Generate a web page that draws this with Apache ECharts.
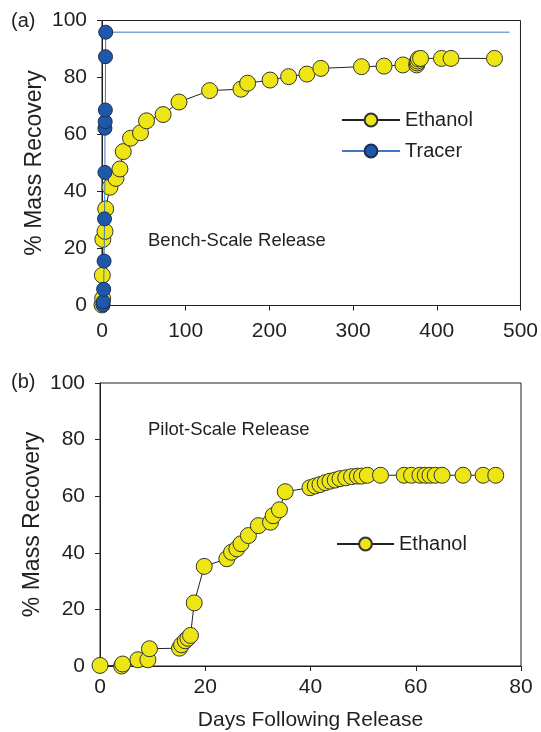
<!DOCTYPE html>
<html><head><meta charset="utf-8">
<script src="https://cdn.jsdelivr.net/npm/echarts@6/dist/echarts.min.js"></script>
<style>html,body{margin:0;padding:0;background:#fff}#c{width:541px;height:732px}</style>
</head><body><div id="c"></div>
<script>
// Panel (a): bench-scale release
const benchEthanol = [
  [0,0.2],[0.4,10.6],[0.8,2.5],[1,23.2],[3.6,26.0],[4.4,33.9],[9.5,41.5],[16.7,44.6],[21.4,47.9],
  [25.4,54.0],[34.1,58.7],[46,60.6],[53.2,64.8],[73,67.0],[92,71.4],[128.6,75.4],[166,75.9],
  [174,78.0],[200.8,79.1],[223,80.3],[244.8,81.2],[261.5,83.2],[310,83.8],[337,84.0],[359.5,84.4],
  [376,84.4],[376.5,85.1],[377,85.8],[378,86.5],[380.6,86.7],[405.6,86.7],[417,86.7],[469,86.7]
];
const benchTracer = [
  [1,0.2],[1.5,1.3],[2,5.7],[2.5,15.6],[3,30.4],[3.5,46.7],[3.5,62.2],[3.8,64.5],[4,68.6],
  [4.2,87.3],[4.5,95.9]
];
const tracerEnd = [487,95.9];
// Panel (b): pilot-scale release
const pilotEthanol = [
  [0,0.2],[4.1,0],[4.3,0.7],[7.2,2.2],[9.1,2.2],[9.4,6.1],[15.1,6.3],[15.5,7.5],[16.2,8.9],
  [16.7,9.8],[17.2,10.8],[17.9,22.3],[19.8,35.2],[24.1,37.9],[25.0,40.2],[26,41.4],[26.8,43.2],
  [28.2,46.1],[30.1,49.6],[32.4,50.8],[32.9,53.1],[34.1,55.2],[35.2,61.6],[39.9,63.0],[40.9,63.6],
  [41.8,64.1],[42.8,64.8],[43.7,65.3],[44.7,65.7],[45.6,66.2],[46.7,66.5],[47.8,66.9],[48.9,67.1],
  [49.7,67.1],[50.8,67.4],[53.3,67.4],[57.8,67.4],[59.2,67.4],[60.8,67.4],[61.8,67.4],[62.7,67.4],
  [63.7,67.4],[65.0,67.4],[69.0,67.4],[72.8,67.4],[75.2,67.4]
];
const xTicksA = {min:0,max:500,interval:100};
const xTicksB = {min:0,max:80,interval:20};
const yTicks = {min:0,max:100,interval:20};

const FONT = 'Liberation Sans, Arial, sans-serif';
const INK = '#231f20';
const YELLOW = '#ede614';
const BLUE = '#1f58a8';

function xAxis(idx, t, margin, name){
  return {type:'value', gridIndex:idx, min:t.min, max:t.max, interval:t.interval,
    name:name||'', nameLocation:'middle', nameGap:44, nameMoveOverlap:false,
    nameTextStyle:{fontFamily:FONT,fontSize:21,color:INK},
    axisLine:{lineStyle:{color:INK,width:1}}, axisTick:{length:5,lineStyle:{color:INK}},
    axisLabel:{fontFamily:FONT,fontSize:21,color:INK,margin:margin}, splitLine:{show:false}};
}
function yAxis(idx){
  return {type:'value', gridIndex:idx, min:yTicks.min, max:yTicks.max, interval:yTicks.interval,
    name:'% Mass Recovery', nameLocation:'middle', nameGap:56, nameMoveOverlap:false,
    nameTextStyle:{fontFamily:FONT,fontSize:23,color:INK},
    axisLine:{show:true,lineStyle:{color:INK,width:1}}, axisTick:{show:true,length:5,lineStyle:{color:INK}},
    axisLabel:{fontFamily:FONT,fontSize:21,color:INK,margin:15}, splitLine:{show:false}};
}
const ethStyle = {symbol:'circle', symbolSize:16, itemStyle:{color:YELLOW,borderColor:'#333',borderWidth:1},
  lineStyle:{color:'#222',width:1}};

const chart = echarts.init(document.getElementById('c'), null, {renderer:'canvas'});
chart.setOption({
  animation:false,
  grid:[
    {left:102,right:19,top:20.5,height:285,show:true,borderColor:INK,borderWidth:1,backgroundColor:'transparent'},
    {left:100,right:20,top:383,height:285,show:true,borderColor:INK,borderWidth:1,backgroundColor:'transparent'}
  ],
  xAxis:[xAxis(0,xTicksA,15), xAxis(1,xTicksB,11,'Days Following Release')],
  yAxis:[yAxis(0), yAxis(1)],
  legend:[
    {orient:'vertical', left:336, top:105, itemWidth:58, itemHeight:16, itemGap:11,
     textStyle:{fontFamily:FONT,fontSize:20,color:INK},
     data:[{name:'Ethanol'},{name:'Tracer'}]},
    {orient:'vertical', left:331, top:529, itemWidth:57, itemHeight:16,
     textStyle:{fontFamily:FONT,fontSize:20,color:INK},
     data:[{name:'Ethanol'}]}
  ],
  graphic:[
    {type:'text', left:11, top:11, style:{text:'(a)',font:'20px '+FONT,fill:INK}},
    {type:'text', left:11, top:372, style:{text:'(b)',font:'20px '+FONT,fill:INK}},
    {type:'text', left:148, top:231, style:{text:'Bench-Scale Release',font:'18.5px '+FONT,fill:INK}},
    {type:'text', left:148, top:420, style:{text:'Pilot-Scale Release',font:'18.5px '+FONT,fill:INK}}
  ],
  series:[
    Object.assign({type:'line', name:'Ethanol', xAxisIndex:0, yAxisIndex:0, data:benchEthanol, z:3}, ethStyle),
    {type:'line', name:'Tracer', xAxisIndex:0, yAxisIndex:0, z:4,
     data: benchTracer.concat([{value:tracerEnd, symbol:'none'}]),
     symbol:'circle', symbolSize:14, itemStyle:{color:BLUE,borderColor:'#1a2f55',borderWidth:1},
     lineStyle:{color:'#3f78c0',width:1}},
    Object.assign({type:'line', name:'Ethanol', xAxisIndex:1, yAxisIndex:1, data:pilotEthanol, z:3}, ethStyle)
  ]
});
</script></body></html>
